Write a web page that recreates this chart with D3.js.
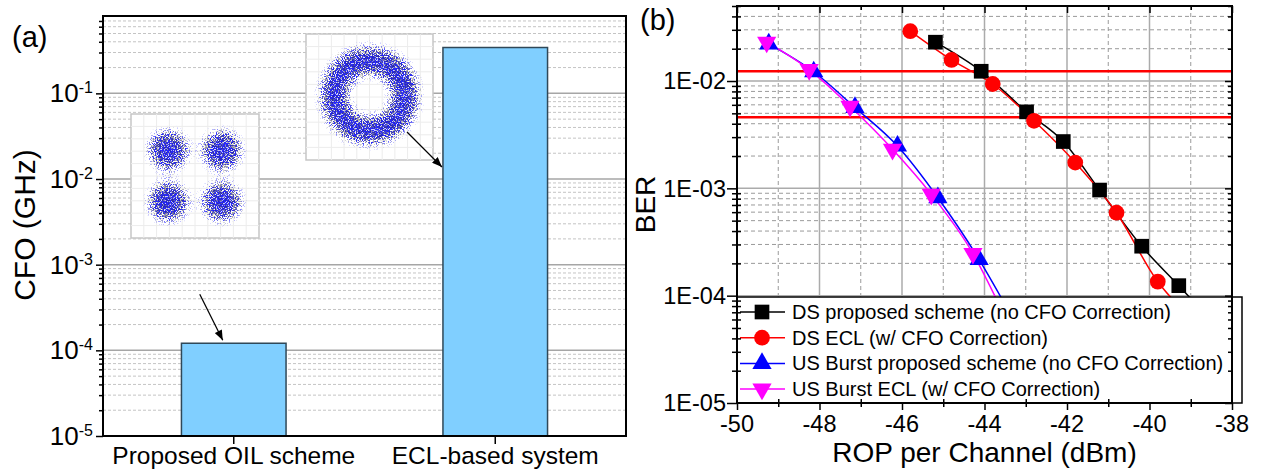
<!DOCTYPE html>
<html>
<head>
<meta charset="utf-8">
<script src="https://cdn.jsdelivr.net/npm/d3@7"></script>
<style>
  body { margin: 0; background: #fff; }
  svg { display: block; }
</style>
</head>
<body>
<svg id="chart" width="1263" height="471"></svg>
<script>
// ---- panel (a): CFO bars ----
const cfoCategories = ["Proposed OIL scheme", "ECL-based system"];
const cfoValues = [1.21e-4, 0.343];
const cfoTickValues = [1e-5, 1e-4, 1e-3, 1e-2, 1e-1];
const cfoTickExponents = ["-5", "-4", "-3", "-2", "-1"];

// constellation insets (symbol positions in the inset's own units)
const qpskPoints = [[-1, 1], [1, 1], [-1, -1], [1, -1]];
const ringRadius = 1.35;

// ---- panel (b): BER curves ----
const ropTicks = [-50, -48, -46, -44, -42, -40, -38];
const berTicks = [1e-5, 1e-4, 1e-3, 1e-2];
const berTickLabels = ["1E-05", "1E-04", "1E-03", "1E-02"];
const fecThresholds = [1.23e-2, 4.6e-3];

const dsPropRop = [-45.19, -44.08, -42.98, -42.09, -41.21, -40.19, -39.29];
const dsPropBer = [0.0230, 0.01233, 0.00516, 0.00273, 0.000964, 0.000289, 0.000124];
const dsEclRop = [-45.8, -44.8, -43.8, -42.8, -41.8, -40.8, -39.8];
const dsEclBer = [0.0291, 0.0157, 0.00938, 0.00426, 0.00174, 0.000593, 0.000135];
const usPropRop = [-49.23, -48.14, -47.14, -46.11, -45.13, -44.13];
const usPropBer = [0.0222, 0.0122, 0.00567, 0.00248, 0.000818, 0.000217];
const usEclRop = [-49.28, -48.25, -47.26, -46.23, -45.29, -44.28];
const usEclBer = [0.0230, 0.01276, 0.00581, 0.00231, 0.000879, 0.000247];
// where each fitted curve runs on under the legend box
const tailRop = [-38.83, -39.29, -43.48, -43.63];
const tailBer = [8e-5, 8e-5, 8e-5, 8e-5];
const seriesNames = [
  "DS proposed scheme (no CFO Correction)",
  "DS ECL (w/ CFO Correction)",
  "US Burst proposed scheme (no CFO Correction)",
  "US Burst ECL (w/ CFO Correction)"
];

const font = '"Liberation Sans", Arial, Helvetica, sans-serif';
const svg = d3.select("#chart").attr("font-family", font);
const defs = svg.append("defs");

// speckle filter: noise thresholded against a blurred shape, so the
// constellation clouds look like scattered samples (dense core, sparse edge)
const sp = defs.append("filter").attr("id", "speckle")
  .attr("color-interpolation-filters", "sRGB")
  .attr("x", "-60%").attr("y", "-60%").attr("width", "220%").attr("height", "220%");
sp.append("feGaussianBlur").attr("in", "SourceGraphic").attr("stdDeviation", 7).attr("result", "cloud");
sp.append("feTurbulence").attr("type", "fractalNoise").attr("baseFrequency", 0.85)
  .attr("numOctaves", 2).attr("seed", 7).attr("result", "noise");
sp.append("feColorMatrix").attr("in", "noise").attr("type", "matrix")
  .attr("values", "0 0 0 0 0  0 0 0 0 0  3.2 0 0 0 -1.1  3.2 0 0 0 -1.1").attr("result", "dots");
sp.append("feComposite").attr("in", "dots").attr("in2", "cloud").attr("operator", "arithmetic")
  .attr("k1", 0).attr("k2", 1.6).attr("k3", 2.2).attr("k4", -1.9).attr("result", "speck");
sp.append("feComponentTransfer").attr("in", "speck")
  .append("feFuncA").attr("type", "linear").attr("slope", 0.85);

defs.append("marker").attr("id", "arrowhead")
  .attr("viewBox", "0 0 10 8").attr("refX", 10).attr("refY", 4)
  .attr("markerWidth", 11).attr("markerHeight", 8).attr("markerUnits", "userSpaceOnUse")
  .attr("orient", "auto")
  .append("path").attr("d", "M0,0L10,4L0,8Z").attr("fill", "#000");

// =================== panel (a) ===================
const aL = 103, aR = 626, aT = 16, aB = 436;
const xA = d3.scaleBand().domain(cfoCategories).range([aL, aR]).paddingInner(0.6).paddingOuter(0.3);
const yA = d3.scaleLog().domain([1e-5, 0.8]).range([aB, aT]);
const minorA = yA.ticks().filter(v => !cfoTickValues.includes(v) && v < 0.8);

const gridA = svg.append("g");
gridA.selectAll(".minor").data(minorA).join("line").attr("class", "minor")
  .attr("x1", aL).attr("x2", aR).attr("y1", d => yA(d)).attr("y2", d => yA(d))
  .attr("stroke", "#c4c4c4").attr("stroke-width", 1).attr("stroke-dasharray", "3,2");
gridA.selectAll(".major").data(cfoTickValues.slice(1)).join("line").attr("class", "major")
  .attr("x1", aL).attr("x2", aR).attr("y1", d => yA(d)).attr("y2", d => yA(d))
  .attr("stroke", "#a6a6a6").attr("stroke-width", 1.5);

// constellation insets
function inset(x0, y0, w, h) {
  const g = svg.append("g");
  g.append("rect").attr("x", x0).attr("y", y0).attr("width", w).attr("height", h)
    .attr("fill", "#fff").attr("stroke", "#c6c6c6").attr("stroke-width", 1.5);
  const s = d3.scaleLinear().domain([-2.4, 2.4]);
  const sx = s.copy().range([x0, x0 + w]);
  const sy = s.copy().range([y0 + h, y0]);
  const gl = d3.range(-2.4, 2.41, 0.48).slice(1, -1);
  g.selectAll(".gv").data(gl).join("line")
    .attr("x1", d => sx(d)).attr("x2", d => sx(d)).attr("y1", y0).attr("y2", y0 + h)
    .attr("stroke", "#ececec").attr("stroke-width", 1);
  g.selectAll(".gh").data(gl).join("line")
    .attr("y1", d => sy(d)).attr("y2", d => sy(d)).attr("x1", x0).attr("x2", x0 + w)
    .attr("stroke", "#ececec").attr("stroke-width", 1);
  return { g, sx, sy };
}

const in1 = inset(131, 114, 128, 124);
in1.g.append("g").attr("filter", "url(#speckle)")
  .selectAll("circle").data(qpskPoints).join("circle")
  .attr("cx", d => in1.sx(d[0])).attr("cy", d => in1.sy(d[1])).attr("r", 20)
  .attr("fill", "#0000ff");

const in2 = inset(306, 34, 127, 126);
in2.g.append("g").attr("filter", "url(#speckle)")
  .append("ellipse").attr("cx", in2.sx(0)).attr("cy", in2.sy(0.05))
  .attr("rx", in2.sx(ringRadius) - in2.sx(0)).attr("ry", in2.sy(0) - in2.sy(ringRadius))
  .attr("fill", "none").attr("stroke", "#0000ff").attr("stroke-width", 27);

// bars
svg.append("g").selectAll("rect").data(cfoCategories).join("rect")
  .attr("x", d => xA(d)).attr("width", xA.bandwidth())
  .attr("y", (d, i) => yA(cfoValues[i])).attr("height", (d, i) => aB - yA(cfoValues[i]))
  .attr("fill", "#80cfff").attr("stroke", "#2f4858").attr("stroke-width", 1.5);

// arrows from the insets to the bars
const arrows = svg.append("g").attr("stroke", "#000").attr("stroke-width", 1.2);
const b1x = xA(cfoCategories[0]) + xA.bandwidth() / 2 - 11, b1y = yA(cfoValues[0]) - 3;
arrows.append("line").attr("x1", b1x - 23).attr("y1", b1y - 46).attr("x2", b1x).attr("y2", b1y)
  .attr("marker-end", "url(#arrowhead)");
const b2x = xA(cfoCategories[1]) - 1;
arrows.append("line").attr("x1", 407).attr("y1", 132).attr("x2", b2x).attr("y2", 167)
  .attr("marker-end", "url(#arrowhead)");

// frame and axes
svg.append("rect").attr("x", aL).attr("y", aT).attr("width", aR - aL).attr("height", aB - aT)
  .attr("fill", "none").attr("stroke", "#000").attr("stroke-width", 2);

svg.append("g").attr("transform", `translate(${aL},0)`)
  .call(d3.axisLeft(yA).tickValues(minorA).tickSize(4).tickFormat(""))
  .call(g => g.select(".domain").remove())
  .selectAll("line").attr("stroke-width", 1.5);
svg.append("g").attr("transform", `translate(${aL},0)`)
  .call(d3.axisLeft(yA).tickValues(cfoTickValues).tickSize(7).tickFormat(""))
  .call(g => g.select(".domain").remove())
  .selectAll("line").attr("stroke-width", 1.5);

const labA = svg.append("g").attr("fill", "#000");
cfoTickValues.forEach((v, i) => {
  const t = labA.append("text").attr("x", 93).attr("y", yA(v) + 9)
    .attr("text-anchor", "end").attr("font-size", 26);
  t.append("tspan").text("10");
  t.append("tspan").attr("font-size", 16).attr("dy", -9).text(cfoTickExponents[i]);
});

svg.append("g").attr("transform", `translate(0,${aB})`)
  .call(d3.axisBottom(xA).tickSize(8).tickPadding(3))
  .call(g => g.select(".domain").remove())
  .call(g => g.selectAll("line").attr("stroke-width", 1.5))
  .call(g => g.selectAll("text").attr("font-size", 24.5).attr("font-family", font).attr("fill", "#000"));

svg.append("text").attr("transform", "translate(35,225) rotate(-90)")
  .attr("text-anchor", "middle").attr("font-size", 30).text("CFO (GHz)");
svg.append("text").attr("x", 12).attr("y", 47).attr("font-size", 29).text("(a)");

// =================== panel (b) ===================
const bL = 737, bR = 1232, bT = 6, bB = 403;
const xB = d3.scaleLinear().domain([-50, -38]).range([bL, bR]);
const yB = d3.scaleLog().domain([1e-5, 0.05]).range([bB, bT]);
const minorX = xB.ticks(12).filter(v => !ropTicks.includes(v));
const minorY = yB.ticks().filter(v => !berTicks.includes(v));

const gridB = svg.append("g");
gridB.selectAll(".mx").data(minorX).join("line")
  .attr("x1", d => xB(d)).attr("x2", d => xB(d)).attr("y1", bT).attr("y2", bB)
  .attr("stroke", "#9a9a9a").attr("stroke-width", 1).attr("stroke-dasharray", "4,3");
gridB.selectAll(".my").data(minorY).join("line")
  .attr("y1", d => yB(d)).attr("y2", d => yB(d)).attr("x1", bL).attr("x2", bR)
  .attr("stroke", "#9a9a9a").attr("stroke-width", 1).attr("stroke-dasharray", "4,3");
gridB.selectAll(".Mx").data(ropTicks.slice(1, -1)).join("line")
  .attr("x1", d => xB(d)).attr("x2", d => xB(d)).attr("y1", bT).attr("y2", bB)
  .attr("stroke", "#ababab").attr("stroke-width", 1.5);
gridB.selectAll(".My").data(berTicks.slice(1)).join("line")
  .attr("y1", d => yB(d)).attr("y2", d => yB(d)).attr("x1", bL).attr("x2", bR)
  .attr("stroke", "#ababab").attr("stroke-width", 1.5);

// FEC threshold lines
svg.append("g").selectAll("line").data(fecThresholds).join("line")
  .attr("x1", bL).attr("x2", bR).attr("y1", d => yB(d)).attr("y2", d => yB(d))
  .attr("stroke", "#ff0000").attr("stroke-width", 2.5);

defs.append("clipPath").attr("id", "clipB").append("rect")
  .attr("x", bL).attr("y", bT).attr("width", bR - bL).attr("height", bB - bT);

const series = [
  { rop: dsPropRop, ber: dsPropBer, color: "#000000", type: d3.symbolSquare, size: 215, rot: 0 },
  { rop: dsEclRop, ber: dsEclBer, color: "#ff0000", type: d3.symbolCircle, size: 195, rot: 0 },
  { rop: usPropRop, ber: usPropBer, color: "#0000ff", type: d3.symbolTriangle, size: 160, rot: 0 },
  { rop: usEclRop, ber: usEclBer, color: "#ff00ff", type: d3.symbolTriangle, size: 160, rot: 180 }
];

const line = d3.line().x(d => xB(d[0])).y(d => yB(d[1])).curve(d3.curveMonotoneX);
const linesG = svg.append("g").attr("clip-path", "url(#clipB)");
series.forEach((s, i) => {
  const pts = d3.zip(s.rop, s.ber).concat([[tailRop[i], tailBer[i]]]);
  linesG.append("path").datum(pts).attr("d", line)
    .attr("fill", "none").attr("stroke", s.color).attr("stroke-width", 1.5);
});
series.forEach(s => {
  svg.append("g").selectAll("path").data(d3.zip(s.rop, s.ber)).join("path")
    .attr("d", d3.symbol().type(s.type).size(s.size))
    .attr("transform", d => `translate(${xB(d[0])},${yB(d[1])}) rotate(${s.rot})`)
    .attr("fill", s.color);
});

// legend
const lgTop = 297, lgRight = 1242;
const lg = svg.append("g");
lg.append("rect").attr("x", bL).attr("y", lgTop).attr("width", lgRight - bL).attr("height", bB - lgTop)
  .attr("fill", "#fff").attr("stroke", "#000").attr("stroke-width", 1.5);
series.forEach((s, i) => {
  const cy = lgTop + 15 + i * 25.7;
  lg.append("line").attr("x1", bL + 3).attr("x2", bL + 48).attr("y1", cy).attr("y2", cy)
    .attr("stroke", s.color).attr("stroke-width", 1.5);
  lg.append("path").attr("d", d3.symbol().type(s.type).size(s.size)())
    .attr("transform", `translate(${bL + 25},${cy}) rotate(${s.rot})`).attr("fill", s.color);
  lg.append("text").attr("x", bL + 55).attr("y", cy + 7).attr("font-size", 20).text(seriesNames[i]);
});

// frame and axes
svg.append("rect").attr("x", bL).attr("y", bT).attr("width", bR - bL).attr("height", bB - bT)
  .attr("fill", "none").attr("stroke", "#000").attr("stroke-width", 2);

function tickAxis(axis, tr, values, size) {
  return svg.append("g").attr("transform", tr)
    .call(axis.tickValues(values).tickSize(size).tickFormat(""))
    .call(g => g.select(".domain").remove())
    .call(g => g.selectAll("line").attr("stroke-width", 1.5));
}
// left
tickAxis(d3.axisLeft(yB), `translate(${bL},0)`, minorY, 5).selectAll("line").attr("x2", 4).attr("x1", -5);
tickAxis(d3.axisLeft(yB), `translate(${bL},0)`, berTicks, 10);
// right, top: inward ticks
tickAxis(d3.axisRight(yB), `translate(${bR},0)`, minorY, -4);
tickAxis(d3.axisRight(yB), `translate(${bR},0)`, berTicks, -7);
tickAxis(d3.axisTop(xB), `translate(0,${bT})`, minorX, -4);
tickAxis(d3.axisTop(xB), `translate(0,${bT})`, ropTicks, -7);
// bottom
tickAxis(d3.axisBottom(xB), `translate(0,${bB})`, minorX, 4).selectAll("line").attr("y1", -4);
tickAxis(d3.axisBottom(xB), `translate(0,${bB})`, ropTicks, 7);

svg.append("g").selectAll("text").data(berTicks).join("text")
  .attr("x", bL - 11).attr("y", d => yB(d)).attr("dy", "0.36em")
  .attr("text-anchor", "end").attr("font-size", 23.5).text((d, i) => berTickLabels[i]);
svg.append("g").selectAll("text").data(ropTicks).join("text")
  .attr("x", d => xB(d)).attr("y", 432)
  .attr("text-anchor", "middle").attr("font-size", 23.5).text(d => d);

svg.append("text").attr("transform", `translate(655,${(bT + bB) / 2}) rotate(-90)`)
  .attr("text-anchor", "middle").attr("font-size", 28).text("BER");
svg.append("text").attr("x", (bL + bR) / 2).attr("y", 462)
  .attr("text-anchor", "middle").attr("font-size", 28).text("ROP per Channel (dBm)");
svg.append("text").attr("x", 640).attr("y", 30).attr("font-size", 29).text("(b)");
</script>
</body>
</html>
